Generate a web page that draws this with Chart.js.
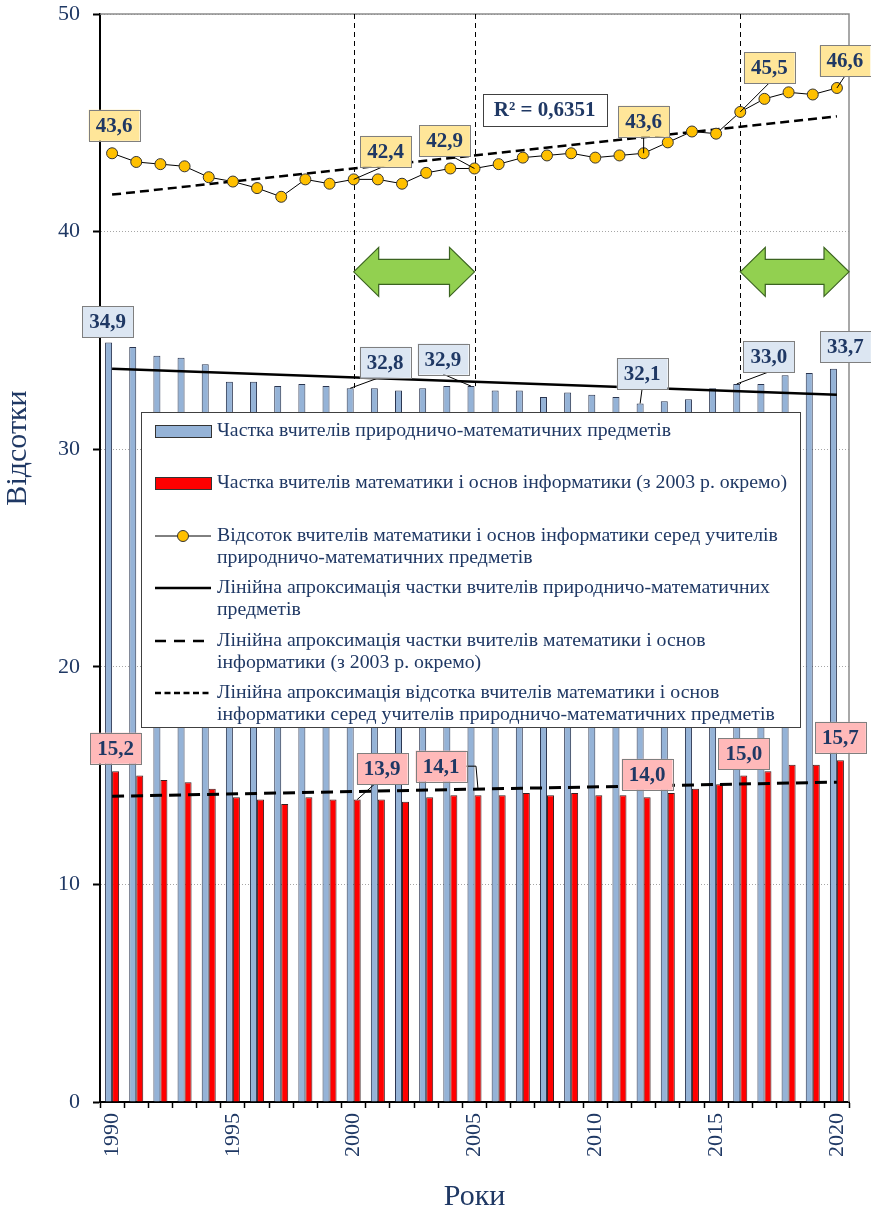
<!DOCTYPE html>
<html>
<head>
<meta charset="utf-8">
<script src="https://cdn.jsdelivr.net/npm/chart.js@4.4.1/dist/chart.umd.min.js"></script>
<style>
  html, body { margin: 0; padding: 0; background: #fff; }
  #wrap { width: 871px; height: 1218px; }
</style>
</head>
<body>
<div id="wrap"><canvas id="chart" width="871" height="1218"></canvas></div>
<script>
const years = [1990, 1991, 1992, 1993, 1994, 1995, 1996, 1997, 1998, 1999, 2000,
    2001, 2002, 2003, 2004, 2005, 2006, 2007, 2008, 2009, 2010,
    2011, 2012, 2013, 2014, 2015, 2016, 2017, 2018, 2019, 2020];
const yearLabels = years.map(String);

// Частка вчителів природничо-математичних предметів, %
const naturalMathShare = [34.9, 34.7, 34.3, 34.2, 33.9, 33.1, 33.1, 32.9, 33.0, 32.9, 32.8,
    32.8, 32.7, 32.8, 32.9, 32.9, 32.7, 32.7, 32.4, 32.6, 32.5,
    32.4, 32.1, 32.2, 32.3, 32.8, 33.0, 33.0, 33.4, 33.5, 33.7];

// Частка вчителів математики і основ інформатики, %
const mathInfShare = [15.2, 15.0, 14.8, 14.7, 14.4, 14.0, 13.9, 13.7, 14.0, 13.9, 13.9,
    13.9, 13.8, 14.0, 14.1, 14.1, 14.1, 14.2, 14.1, 14.2, 14.1,
    14.1, 14.0, 14.2, 14.4, 14.6, 15.0, 15.2, 15.5, 15.5, 15.7];

// Відсоток вчителів математики серед учителів природничо-математичних предметів
const mathPercent = [43.6, 43.2, 43.1, 43.0, 42.5, 42.3, 42.0, 41.6, 42.4, 42.2, 42.4,
    42.4, 42.2, 42.7, 42.9, 42.9, 43.1, 43.4, 43.5, 43.6, 43.4,
    43.5, 43.6, 44.1, 44.6, 44.5, 45.5, 46.1, 46.4, 46.3, 46.6];

// Trend lines at the first and last year
const trendYears = ['1990', '2020'];
const naturalTrend = [33.7, 32.5];
const mathInfTrend = [14.05, 14.7];
const percentTrend = [41.7, 45.3];
const rSquaredText = 'R² = 0,6351';

// Years that carry value boxes, and years marked with vertical dashed lines
const labeledYears = [1990, 2000, 2005, 2012, 2016, 2020];
const markerYears = [2000, 2005, 2016];
const arrowLevel = 38.15;

const legendLabels = [
    ['Частка вчителів природничо-математичних предметів'],
    ['Частка вчителів математики і основ інформатики (з 2003 р. окремо)'],
    ['Відсоток вчителів математики і основ інформатики серед учителів', 'природничо-математичних предметів'],
    ['Лінійна апроксимація частки вчителів природничо-математичних', 'предметів'],
    ['Лінійна апроксимація частки вчителів математики і основ', 'інформатики (з 2003 р. окремо)'],
    ['Лінійна апроксимація відсотка вчителів математики і основ', 'інформатики серед учителів природничо-математичних предметів'],
];

const FONT = "'Liberation Serif', 'Times New Roman', serif";
const NAVY = '#1f3864';

const toPoints = (xs, ys) => xs.map((x, i) => ({ x: x, y: ys[i] }));

// Box offsets (px) from the mark they describe; leader: null | 'bottom' | 'elbow'
const labelStyles = [
    { dataset: 0, fill: '#ffe699', boxes: [
        { dx: 2, dy: -28, leader: null },
        { dx: 32, dy: -28, leader: 'bottom', lx: -2 },
        { dx: -30, dy: -28, leader: 'bottom', lx: 6 },
        { dx: 0, dy: -32, leader: 'bottom', lx: 0 },
        { dx: 29, dy: -44, leader: 'bottom', lx: 0 },
        { dx: 8, dy: -27, leader: 'bottom', lx: 0 },
    ]},
    { dataset: 4, fill: '#dce6f2', boxes: [
        { dx: -1, dy: -21, leader: null },
        { dx: 35, dy: -26, leader: 'bottom', lx: -5 },
        { dx: -28, dy: -27, leader: 'bottom', lx: 0 },
        { dx: 2, dy: -30, leader: 'bottom', lx: 0 },
        { dx: 32, dy: -27, leader: 'bottom', lx: 0 },
        { dx: 12, dy: -22, leader: null },
    ]},
    { dataset: 5, fill: '#ffb9b9', boxes: [
        { dx: 0, dy: -23, leader: null },
        { dx: 25, dy: -31, leader: 'bottom', lx: -7 },
        { dx: -37, dy: -29, leader: 'elbow' },
        { dx: 0, dy: -23, leader: null },
        { dx: 0, dy: -22, leader: null },
        { dx: 0, dy: -23, leader: null },
    ]},
];

function drawBox(ctx, cx, cy, text, fill, border) {
    ctx.font = 'bold 21px ' + FONT;
    const w = ctx.measureText(text).width + 14;
    const h = 31;
    ctx.fillStyle = fill;
    ctx.fillRect(cx - w / 2, cy - h / 2, w, h);
    ctx.strokeStyle = border;
    ctx.lineWidth = 1;
    ctx.strokeRect(Math.round(cx - w / 2) + 0.5, Math.round(cy - h / 2) + 0.5, Math.round(w), h);
    ctx.fillStyle = NAVY;
    ctx.textAlign = 'center';
    ctx.textBaseline = 'middle';
    ctx.fillText(text, cx, cy + 1);
    return { w, h };
}

function drawArrow(ctx, x1, x2, yc) {
    const head = 25, hh = 24.5, bh = 12.5;
    ctx.beginPath();
    ctx.moveTo(x1, yc);
    ctx.lineTo(x1 + head, yc - hh);
    ctx.lineTo(x1 + head, yc - bh);
    ctx.lineTo(x2 - head, yc - bh);
    ctx.lineTo(x2 - head, yc - hh);
    ctx.lineTo(x2, yc);
    ctx.lineTo(x2 - head, yc + hh);
    ctx.lineTo(x2 - head, yc + bh);
    ctx.lineTo(x1 + head, yc + bh);
    ctx.lineTo(x1 + head, yc + hh);
    ctx.closePath();
    ctx.fillStyle = '#92d050';
    ctx.fill();
    ctx.strokeStyle = '#3b6320';
    ctx.lineWidth = 1.2;
    ctx.stroke();
}

const decorPlugin = {
    id: 'decor',
    beforeDatasetsDraw(chart) {
        const { ctx, chartArea, scales: { x, y } } = chart;
        ctx.save();
        // grey frame on top and right
        ctx.strokeStyle = '#8c8c8c';
        ctx.lineWidth = 1.5;
        ctx.beginPath();
        ctx.moveTo(chartArea.left, chartArea.top);
        ctx.lineTo(chartArea.right, chartArea.top);
        ctx.lineTo(chartArea.right, chartArea.bottom);
        ctx.stroke();

        // vertical dashed lines down to the blue bar
        ctx.strokeStyle = '#000';
        ctx.lineWidth = 1;
        ctx.setLineDash([5, 4]);
        markerYears.forEach(yr => {
            const i = years.indexOf(yr);
            const px = Math.round(x.getPixelForValue(i)) + 0.5;
            ctx.beginPath();
            ctx.moveTo(px, chartArea.top);
            ctx.lineTo(px, y.getPixelForValue(naturalMathShare[i]));
            ctx.stroke();
        });
        ctx.setLineDash([]);

        // green double arrows
        const ay = y.getPixelForValue(arrowLevel);
        drawArrow(ctx, x.getPixelForValue(years.indexOf(2000)), x.getPixelForValue(years.indexOf(2005)), ay);
        drawArrow(ctx, x.getPixelForValue(years.indexOf(2016)), chartArea.right, ay);
        ctx.restore();
    },
    afterDatasetsDraw(chart) {
        const { ctx, chartArea, scales: { x, y } } = chart;
        ctx.save();

        // legend box
        const lb = { left: 141, top: 412, right: 800, bottom: 727 };
        ctx.fillStyle = '#fff';
        ctx.fillRect(lb.left, lb.top, lb.right - lb.left, lb.bottom - lb.top);
        ctx.strokeStyle = '#404040';
        ctx.lineWidth = 1;
        ctx.strokeRect(lb.left + 0.5, lb.top + 0.5, lb.right - lb.left, lb.bottom - lb.top);

        const rowY = [431, 483, 536, 588, 641, 693];
        const lineGap = 22;
        const sx1 = 155, sx2 = 211, tx = 217;
        rowY.forEach((ry, k) => {
            ctx.save();
            if (k === 0 || k === 1) {
                ctx.fillStyle = k === 0 ? '#95b3d7' : '#ff0000';
                ctx.fillRect(sx1, ry - 6, sx2 - sx1, 12);
                ctx.strokeStyle = '#333';
                ctx.lineWidth = 1;
                ctx.strokeRect(sx1 + 0.5, ry - 6 + 0.5, sx2 - sx1, 12);
            } else {
                ctx.strokeStyle = '#000';
                ctx.lineWidth = k === 2 ? 1 : 2.5;
                if (k === 4) ctx.setLineDash([11, 8]);
                if (k === 5) ctx.setLineDash([6, 3.5]);
                ctx.beginPath();
                ctx.moveTo(sx1, ry);
                ctx.lineTo(sx2, ry);
                ctx.stroke();
                if (k === 2) {
                    ctx.beginPath();
                    ctx.arc((sx1 + sx2) / 2, ry, 5.5, 0, Math.PI * 2);
                    ctx.fillStyle = '#ffc000';
                    ctx.fill();
                    ctx.strokeStyle = '#333';
                    ctx.stroke();
                }
            }
            ctx.restore();
            ctx.fillStyle = NAVY;
            ctx.font = '19.8px ' + FONT;
            ctx.textAlign = 'left';
            ctx.textBaseline = 'middle';
            legendLabels[k].forEach((line, j) => ctx.fillText(line, tx, ry + j * lineGap));
        });

        // R² box
        const rx = x.getPixelForValue(17.9), ry = y.getPixelForValue(45.6);
        ctx.font = 'bold 21px ' + FONT;
        const rw = ctx.measureText(rSquaredText).width + 22;
        ctx.fillStyle = '#fff';
        ctx.fillRect(rx - rw / 2, ry - 16, rw, 32);
        ctx.strokeStyle = '#404040';
        ctx.strokeRect(Math.round(rx - rw / 2) + 0.5, Math.round(ry - 16) + 0.5, Math.round(rw), 32);
        ctx.fillStyle = NAVY;
        ctx.textAlign = 'center';
        ctx.textBaseline = 'middle';
        ctx.fillText(rSquaredText, rx, ry + 1);

        // value boxes
        labelStyles.forEach(series => {
            const meta = chart.getDatasetMeta(series.dataset);
            const values = chart.data.datasets[series.dataset].data;
            labeledYears.forEach((yr, k) => {
                const i = years.indexOf(yr);
                const el = meta.data[i];
                const b = series.boxes[k];
                const cx = el.x + b.dx, cy = el.y + b.dy;
                const text = values[i].toFixed(1).replace('.', ',');
                ctx.font = 'bold 21px ' + FONT;
                const w = ctx.measureText(text).width + 14;
                ctx.strokeStyle = '#000';
                ctx.lineWidth = 1;
                if (b.leader === 'bottom') {
                    ctx.beginPath();
                    ctx.moveTo(cx + b.lx, cy + 15);
                    ctx.lineTo(el.x, el.y);
                    ctx.stroke();
                } else if (b.leader === 'elbow') {
                    ctx.beginPath();
                    ctx.moveTo(cx + w / 2, cy);
                    ctx.lineTo(el.x - 2, cy);
                    ctx.lineTo(el.x, el.y - 6);
                    ctx.stroke();
                }
                drawBox(ctx, cx, cy, text, series.fill, '#7f7f7f');
            });
        });
        ctx.restore();
    },
    afterDraw(chart) {
        const { ctx } = chart;
        ctx.save();
        ctx.translate(18, 448);
        ctx.rotate(-Math.PI / 2);
        ctx.fillStyle = NAVY;
        ctx.font = '30px ' + FONT;
        ctx.textAlign = 'center';
        ctx.textBaseline = 'middle';
        ctx.fillText('Відсотки', 0, 0);
        ctx.restore();
    }
};

new Chart(document.getElementById('chart'), {
    type: 'bar',
    data: {
        labels: yearLabels,
        datasets: [
            {
                type: 'line',
                label: legendLabels[2].join(' '),
                data: mathPercent,
                borderColor: '#000',
                borderWidth: 1,
                pointRadius: 5.5,
                pointBackgroundColor: '#ffc000',
                pointBorderColor: '#333',
                pointBorderWidth: 1,
                tension: 0,
                order: 1
            },
            {
                type: 'line',
                label: legendLabels[5].join(' '),
                data: toPoints(trendYears, percentTrend),
                borderColor: '#000',
                borderWidth: 2.5,
                borderDash: [9, 5],
                pointRadius: 0,
                order: 2
            },
            {
                type: 'line',
                label: legendLabels[3].join(' '),
                data: toPoints(trendYears, naturalTrend),
                borderColor: '#000',
                borderWidth: 2.5,
                pointRadius: 0,
                order: 3
            },
            {
                type: 'line',
                label: legendLabels[4].join(' '),
                data: toPoints(trendYears, mathInfTrend),
                borderColor: '#000',
                borderWidth: 3,
                borderDash: [12, 7],
                pointRadius: 0,
                order: 4
            },
            {
                type: 'bar',
                label: legendLabels[0][0],
                data: naturalMathShare,
                backgroundColor: '#95b3d7',
                borderColor: '#2a3550',
                borderWidth: 1,
                categoryPercentage: 0.58,
                barPercentage: 1,
                order: 10
            },
            {
                type: 'bar',
                label: legendLabels[1][0],
                data: mathInfShare,
                backgroundColor: '#ff0000',
                borderColor: '#3a1f1f',
                borderWidth: 1,
                categoryPercentage: 0.58,
                barPercentage: 1,
                order: 11
            }
        ]
    },
    options: {
        responsive: false,
        animation: false,
        devicePixelRatio: 1,
        layout: { padding: { top: 14, right: 22, left: 0, bottom: 0 } },
        plugins: {
            legend: { display: false },
            tooltip: { enabled: false }
        },
        scales: {
            x: {
                offset: true,
                grid: {
                    display: true,
                    drawOnChartArea: false,
                    drawTicks: true,
                    tickLength: 6,
                    tickColor: '#000',
                    tickWidth: 1.5,
                    offset: true
                },
                border: { display: true, color: '#000', width: 2 },
                ticks: {
                    autoSkip: false,
                    maxRotation: 90,
                    minRotation: 90,
                    padding: 5,
                    color: NAVY,
                    font: { family: FONT, size: 22 },
                    callback: (v, i) => (years[i] % 5 === 0 ? String(years[i]) : '')
                },
                title: {
                    display: true,
                    text: 'Роки',
                    color: NAVY,
                    font: { family: FONT, size: 30 },
                    padding: { top: 0, bottom: 3 }
                },
                afterFit: scale => { scale.height = 116; }
            },
            y: {
                min: 0,
                max: 50,
                ticks: {
                    stepSize: 10,
                    padding: 13,
                    color: NAVY,
                    font: { family: FONT, size: 22 }
                },
                grid: {
                    color: '#a6a6a6',
                    lineWidth: 1,
                    tickColor: '#000',
                    tickLength: 7,
                    tickWidth: 2,
                    tickBorderDash: []
                },
                border: { display: true, color: '#000', width: 2, dash: [1, 2] },
                afterFit: scale => {
                    scale.width = 100;
                    scale.paddingTop = 0;
                    scale.paddingBottom = 0;
                }
            }
        }
    },
    plugins: [decorPlugin]
});
</script>
</body>
</html>
